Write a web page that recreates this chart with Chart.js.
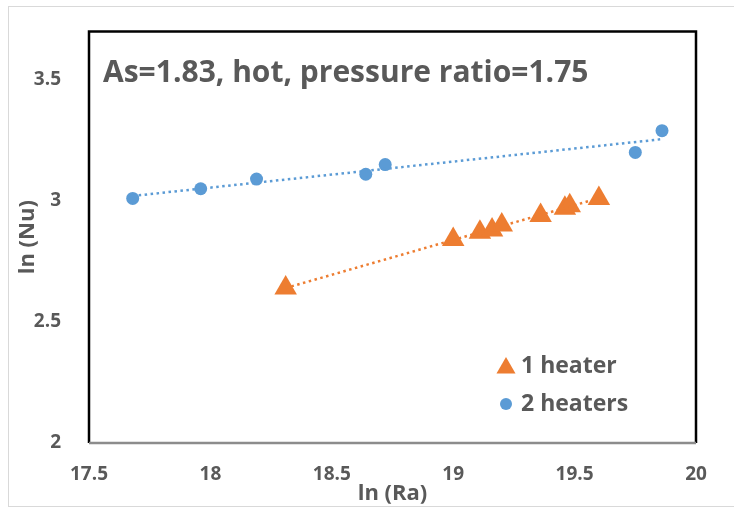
<!DOCTYPE html>
<html>
<head>
<meta charset="utf-8">
<script src="https://cdn.jsdelivr.net/npm/chart.js@4"></script>
<style>
  html, body { margin: 0; padding: 0; background: #fff; }
  #wrap { position: relative; width: 734px; height: 511px; }
  #frame { position: absolute; left: 8px; top: 6px; width: 740px; height: 501px; border: 1px solid #d9d9d9; box-sizing: border-box; }
  #nuChart { position: absolute; left: 0; top: 0; }
</style>
</head>
<body>
<div id="wrap">
  <div id="frame"></div>
  <canvas id="nuChart" width="734" height="511"></canvas>
</div>
<script>
// ln(Ra) / ln(Nu) for one heater
const raOneHeater = [18.31, 19.00, 19.11, 19.16, 19.20, 19.36, 19.46, 19.48, 19.60];
const nuOneHeater = [2.64, 2.84, 2.87, 2.88, 2.90, 2.94, 2.97, 2.98, 3.01];

// ln(Ra) / ln(Nu) for two heaters
const raTwoHeaters = [17.68, 17.96, 18.19, 18.64, 18.72, 19.75, 19.86];
const nuTwoHeaters = [3.01, 3.05, 3.09, 3.11, 3.15, 3.20, 3.29];

const xTicks = [17.5, 18, 18.5, 19, 19.5, 20];
const yTicks = [2, 2.5, 3, 3.5];

const chartTitle = 'As=1.83, hot, pressure ratio=1.75';
const seriesNames = ['1 heater', '2 heaters'];

const orange = '#ED7D31';
const blue = '#5B9BD5';
const textGrey = '#595959';
const fontFamily = '"Open Sans", "DejaVu Sans", sans-serif';

function toPoints(xs, ys) {
    return xs.map((x, i) => ({ x: x, y: ys[i] }));
}

// least squares trendline, drawn between the smallest and largest x
function trendline(xs, ys) {
    const n = xs.length;
    const mx = xs.reduce((a, b) => a + b, 0) / n;
    const my = ys.reduce((a, b) => a + b, 0) / n;
    let sxy = 0, sxx = 0;
    for (let i = 0; i < n; i++) {
        sxy += (xs[i] - mx) * (ys[i] - my);
        sxx += (xs[i] - mx) * (xs[i] - mx);
    }
    const slope = sxy / sxx;
    const x0 = Math.min(...xs), x1 = Math.max(...xs);
    return [
        { x: x0, y: my + slope * (x0 - mx) },
        { x: x1, y: my + slope * (x1 - mx) }
    ];
}

// title text, plot frame and the legend inside the plot area
const decorations = {
    id: 'decorations',
    afterDraw(chart) {
        const ctx = chart.ctx;
        const a = chart.chartArea;
        ctx.save();

        ctx.strokeStyle = '#000';
        ctx.lineWidth = 2.5;
        ctx.beginPath();
        ctx.moveTo(a.left, a.bottom);
        ctx.lineTo(a.left, a.top);
        ctx.lineTo(a.right, a.top);
        ctx.lineTo(a.right, a.bottom);
        ctx.stroke();
        ctx.strokeStyle = '#8c8c8c';
        ctx.beginPath();
        ctx.moveTo(a.left, a.bottom);
        ctx.lineTo(a.right, a.bottom);
        ctx.stroke();

        ctx.fillStyle = textGrey;
        ctx.textBaseline = 'middle';
        ctx.textAlign = 'left';
        ctx.font = 'bold 30px ' + fontFamily;
        ctx.fillText(chartTitle, a.left + 14, 73);

        ctx.font = 'bold 23px ' + fontFamily;
        const styles = [
            { pointStyle: 'triangle', radius: 11, color: orange, y: 366 },
            { pointStyle: 'circle', radius: 6, color: blue, y: 404 }
        ];
        styles.forEach((s, i) => {
            ctx.fillStyle = s.color;
            Chart.helpers.drawPoint(ctx, {
                pointStyle: s.pointStyle, radius: s.radius, rotation: 0, borderWidth: 0
            }, 506, s.y + (s.pointStyle === 'triangle' ? 2 : 0));
            ctx.fillStyle = textGrey;
            ctx.fillText(seriesNames[i], 521, s.y);
        });
        ctx.restore();
    }
};

const tickLabel = (value) => String(value);

const config = {
    type: 'scatter',
    data: {
        datasets: [
            {
                label: seriesNames[0] + ' trend',
                type: 'line',
                data: trendline(raOneHeater, nuOneHeater),
                borderColor: orange,
                borderWidth: 2.5,
                borderDash: [2.5, 3.5],
                pointRadius: 0,
                fill: false
            },
            {
                label: seriesNames[1] + ' trend',
                type: 'line',
                data: trendline(raTwoHeaters, nuTwoHeaters),
                borderColor: blue,
                borderWidth: 2.5,
                borderDash: [2.5, 3.5],
                pointRadius: 0,
                fill: false
            },
            {
                label: seriesNames[0],
                data: toPoints(raOneHeater, nuOneHeater),
                pointStyle: 'triangle',
                pointRadius: 13,
                backgroundColor: orange,
                borderColor: orange,
                borderWidth: 0
            },
            {
                label: seriesNames[1],
                data: toPoints(raTwoHeaters, nuTwoHeaters),
                pointStyle: 'circle',
                pointRadius: 6.5,
                backgroundColor: blue,
                borderColor: blue,
                borderWidth: 0
            }
        ]
    },
    options: {
        responsive: false,
        animation: false,
        layout: { padding: { left: 0, right: 38, top: 23, bottom: 0 } },
        plugins: {
            legend: { display: false },
            tooltip: { enabled: false }
        },
        scales: {
            x: {
                type: 'linear',
                min: 17.5,
                max: 20,
                grid: { display: false },
                border: { display: false },
                afterBuildTicks: (scale) => { scale.ticks = xTicks.map(v => ({ value: v })); },
                afterFit: (scale) => { scale.height = 68; },
                ticks: {
                    color: textGrey,
                    padding: 12,
                    callback: tickLabel,
                    font: { family: fontFamily, size: 19, weight: 'bold' }
                },
                title: {
                    display: true,
                    text: 'ln (Ra)',
                    color: textGrey,
                    padding: { top: 0, bottom: 4 },
                    font: { family: fontFamily, size: 22, weight: 'bold' }
                }
            },
            y: {
                type: 'linear',
                min: 2,
                max: 3.7,
                grid: { display: false },
                border: { display: false },
                afterBuildTicks: (scale) => { scale.ticks = yTicks.map(v => ({ value: v })); },
                afterFit: (scale) => { scale.width = 89; },
                ticks: {
                    color: textGrey,
                    padding: 20,
                    callback: tickLabel,
                    font: { family: fontFamily, size: 19, weight: 'bold' }
                },
                title: {
                    display: true,
                    text: 'ln (Nu)',
                    color: textGrey,
                    padding: { top: 15, bottom: 0 },
                    font: { family: fontFamily, size: 22, weight: 'bold' }
                }
            }
        }
    },
    plugins: [decorations]
};

const nuChart = new Chart(document.querySelector('#nuChart'), config);
</script>
</body>
</html>
